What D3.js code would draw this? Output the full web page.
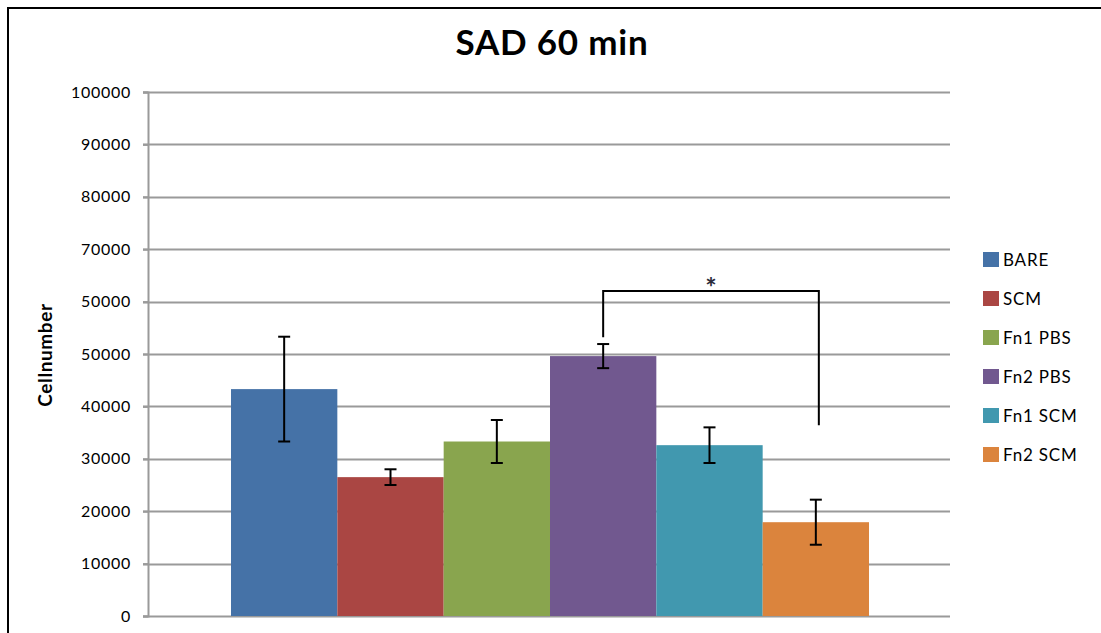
<!DOCTYPE html>
<html>
<head>
<meta charset="utf-8">
<script src="https://cdn.jsdelivr.net/npm/d3@7"></script>
<style>
  html, body { margin: 0; padding: 0; background: #fff; }
  svg { display: block; }
  text { font-family: Lato, "Open Sans", sans-serif; }
</style>
</head>
<body>
<svg id="chart" width="1101" height="633"></svg>
<script>
// ---- data ----
const categories = ["BARE", "SCM", "Fn1 PBS", "Fn2 PBS", "Fn1 SCM", "Fn2 SCM"];
const values = [43300, 26500, 33300, 49600, 32600, 17900];
const errors = [10000, 1500, 4100, 2300, 3400, 4300];
const colors = ["#4572A7", "#AA4643", "#89A54E", "#71588F", "#4198AF", "#DB843D"];
const tickValues = [0, 10000, 20000, 30000, 40000, 50000, 60000, 70000, 80000, 90000, 100000];
const tickLabels = ["0", "10000", "20000", "30000", "40000", "50000", "50000", "70000", "80000", "90000", "100000"];
const title = "SAD 60 min";
const yTitle = "Cellnumber";
// significance bracket: from Fn2 PBS to Fn2 SCM
const bracketFrom = "Fn2 PBS", bracketTo = "Fn2 SCM";
const bracketLevel = 62000, bracketLeftEnd = 53200, bracketRightEnd = 36400;
const sigLabel = "*";

// ---- layout ----
const svg = d3.select("#chart");
const plot = { left: 148, right: 950, top: 92, bottom: 616 };

const y = d3.scaleLinear().domain([0, 100000]).range([plot.bottom, plot.top]);
const x = d3.scaleBand().domain(categories).range([plot.left + 83, plot.right - 81])
  .paddingInner(0).paddingOuter(0);

// outer border
svg.append("path").attr("d", "M8,633 L8,8 L1101,8")
  .attr("fill", "none").attr("stroke", "#000").attr("stroke-width", 2);

// title
svg.append("text").attr("x", 552).attr("y", 55).attr("text-anchor", "middle")
  .attr("font-size", 35).attr("font-weight", "bold").attr("letter-spacing", "0.8px")
  .attr("fill", "#000").text(title);

// gridlines
svg.append("g").selectAll("line").data(tickValues).join("line")
  .attr("x1", plot.left - 5).attr("x2", plot.right)
  .attr("y1", d => Math.round(y(d)) + 0.5).attr("y2", d => Math.round(y(d)) + 0.5)
  .attr("stroke", "#9a9a9a").attr("stroke-width", 2);

// y axis
const yAxis = d3.axisLeft(y).tickValues(tickValues)
  .tickFormat((d, i) => tickLabels[i]).tickSize(5).tickPadding(12);
const ag = svg.append("g").attr("transform", `translate(${plot.left},0)`).call(yAxis);
ag.select(".domain").attr("stroke", "#9a9a9a").attr("stroke-width", 2);
ag.selectAll(".tick line").attr("stroke", "#9a9a9a").attr("stroke-width", 2);
ag.selectAll(".tick text").attr("font-size", 16).attr("fill", "#000")
  .attr("font-family", "Lato, sans-serif").attr("letter-spacing", "0.7px");

// y title
svg.append("text").attr("transform", `translate(52,355) rotate(-90)`)
  .attr("text-anchor", "middle").attr("font-size", 19).attr("font-weight", "bold")
  .attr("letter-spacing", "0.6px").attr("fill", "#000").text(yTitle);

// bars
svg.append("g").selectAll("rect").data(categories).join("rect")
  .attr("x", d => x(d)).attr("width", x.bandwidth())
  .attr("y", (d, i) => y(values[i])).attr("height", (d, i) => y(0) - y(values[i]))
  .attr("fill", (d, i) => colors[i]);

// error bars
const eg = svg.append("g").attr("stroke", "#000").attr("stroke-width", 2);
categories.forEach((c, i) => {
  const cx = x(c) + x.bandwidth() / 2;
  const y1 = y(values[i] + errors[i]), y2 = y(values[i] - errors[i]);
  eg.append("line").attr("x1", cx).attr("x2", cx).attr("y1", y1).attr("y2", y2);
  eg.append("line").attr("x1", cx - 6).attr("x2", cx + 6).attr("y1", y1).attr("y2", y1);
  eg.append("line").attr("x1", cx - 6).attr("x2", cx + 6).attr("y1", y2).attr("y2", y2);
});

// significance bracket
const bx1 = x(bracketFrom) + x.bandwidth() / 2;
const bx2 = x(bracketTo) + x.bandwidth() / 2 + 3;
svg.append("path")
  .attr("d", `M${bx1},${y(bracketLevel) === undefined ? 0 : y(bracketLeftEnd)} L${bx1},${y(bracketLevel)} L${bx2},${y(bracketLevel)} L${bx2},${y(bracketRightEnd)}`)
  .attr("fill", "none").attr("stroke", "#000").attr("stroke-width", 2);
svg.append("text").attr("x", (bx1 + bx2) / 2).attr("y", y(bracketLevel) + 6)
  .attr("text-anchor", "middle").attr("font-size", 27).attr("font-weight", "bold")
  .attr("fill", "#2a2a3a").text(sigLabel);

// legend
const lg = svg.append("g").attr("transform", "translate(983,252)");
const li = lg.selectAll("g").data(categories).join("g")
  .attr("transform", (d, i) => `translate(0,${i * 39})`);
li.append("rect").attr("width", 16).attr("height", 15).attr("fill", (d, i) => colors[i]);
li.append("text").attr("x", 20).attr("y", 14).attr("font-size", 17)
  .attr("fill", "#000").attr("letter-spacing", "0.8px").text(d => d);
</script>
</body>
</html>
